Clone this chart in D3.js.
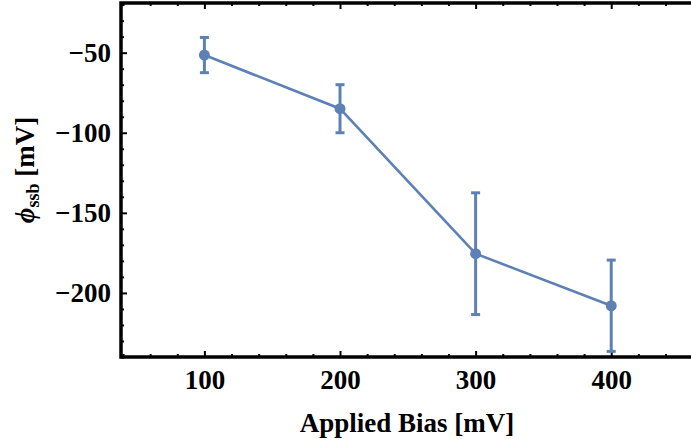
<!DOCTYPE html>
<html>
<head>
  <meta charset="UTF-8">
  <title></title>
  <style>
    body { margin: 0; background: #fff; }
    text { font-family: 'Liberation Serif', 'Times New Roman', serif; font-weight: bold; }
    .tick text { font-size: 27px; fill: #000; }
    .tick line { stroke: #000; }
    .axtitle { font-size: 27px; }
  </style>
</head>
<body>
<script src="https://cdnjs.cloudflare.com/ajax/libs/d3/7.8.5/d3.min.js"></script>
<script>
/// data
var bias = [100, 200, 300, 400];
var phi = [-51.5, -85, -175.5, -208];
var err = [11, 15, 38, 28.5];
var xTicks = [100, 200, 300, 400];
var yTicks = [-200, -150, -100, -50];

var blue = "#5e81b5";
var width = 691, height = 444;
var plotL = 121, plotR = 695.3, plotT = 3, plotB = 357;

var svg = d3.select("body").append("svg")
    .attr("width", width)
    .attr("height", height);

var x = d3.scaleLinear().domain([38.5, 462]).range([plotL, plotR]);
var y = d3.scaleLinear().domain([-240, -19]).range([plotB, plotT]);

var xMinor = d3.range(40, 462, 20).filter(function(v) { return v % 100 != 0; });
var yMinor = d3.range(-240, -19, 10).filter(function(v) { return v % 50 != 0; });

// minor ticks
svg.append("g").attr("transform", "translate(0," + plotB + ")")
    .call(d3.axisBottom(x).tickValues(xMinor).tickSize(-3).tickFormat(""));
svg.append("g").attr("transform", "translate(0," + plotT + ")")
    .call(d3.axisTop(x).tickValues(xMinor).tickSize(-3).tickFormat(""));
svg.append("g").attr("transform", "translate(" + plotL + ",0)")
    .call(d3.axisLeft(y).tickValues(yMinor).tickSize(-3).tickFormat(""));

// major ticks + labels
svg.append("g").attr("transform", "translate(0," + plotB + ")")
    .call(d3.axisBottom(x).tickValues(xTicks).tickSize(-6).tickPadding(13));
svg.append("g").attr("transform", "translate(0," + plotT + ")")
    .call(d3.axisTop(x).tickValues(xTicks).tickSize(-6).tickFormat(""));
svg.append("g").attr("transform", "translate(" + plotL + ",0)")
    .call(d3.axisLeft(y).tickValues(yTicks).tickSize(-6).tickPadding(10));

svg.selectAll(".domain").remove();
svg.selectAll(".tick line").attr("stroke-width", 2);

// frame
svg.append("rect")
    .attr("x", plotL).attr("y", plotT)
    .attr("width", plotR - plotL).attr("height", plotB - plotT)
    .attr("fill", "none").attr("stroke", "#000").attr("stroke-width", 3.5);

// error bars
var eb = svg.append("g").attr("stroke", blue).attr("stroke-width", 3);
bias.forEach(function(b, i) {
  eb.append("line")
    .attr("x1", x(b)).attr("x2", x(b))
    .attr("y1", y(phi[i] + err[i])).attr("y2", y(phi[i] - err[i]));
  [phi[i] + err[i], phi[i] - err[i]].forEach(function(v) {
    eb.append("line")
      .attr("x1", x(b) - 4.5).attr("x2", x(b) + 4.5)
      .attr("y1", y(v)).attr("y2", y(v));
  });
});

// line + points
var pts = bias.map(function(b, i) { return [b, phi[i]]; });
svg.append("path")
    .datum(pts)
    .attr("fill", "none")
    .attr("stroke", blue)
    .attr("stroke-width", 2.6)
    .attr("d", d3.line().x(function(d) { return x(d[0]); }).y(function(d) { return y(d[1]); }));

svg.selectAll(".pt").data(pts).enter().append("circle")
    .attr("class", "pt")
    .attr("cx", function(d) { return x(d[0]); })
    .attr("cy", function(d) { return y(d[1]); })
    .attr("r", 5.5)
    .attr("fill", blue);

// titles
svg.append("text").attr("class", "axtitle")
    .attr("x", 407).attr("y", 432)
    .attr("text-anchor", "middle")
    .text("Applied Bias [mV]");

var yt = svg.append("text").attr("class", "axtitle")
    .attr("transform", "translate(34,170) rotate(-90)")
    .attr("text-anchor", "middle");
yt.append("tspan").attr("font-style", "italic").text("\u03d5");
yt.append("tspan").attr("font-size", "18px").attr("dy", 5).text("ssb");
yt.append("tspan").attr("dy", -5).text(" [mV]");
</script>
</body>
</html>
